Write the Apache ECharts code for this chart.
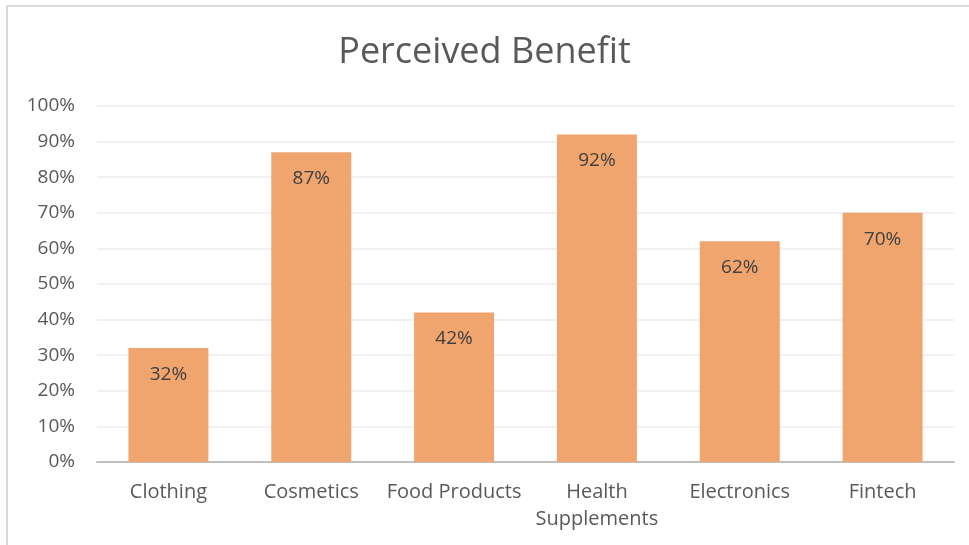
<!DOCTYPE html>
<html>
<head>
<meta charset="utf-8">
<script src="https://cdn.jsdelivr.net/npm/echarts@6/dist/echarts.min.js"></script>
<style>
  html, body { margin: 0; padding: 0; background: #ffffff; }
  #chart { width: 969px; height: 545px; }
</style>
</head>
<body>
<div id="chart"></div>
<script>
// Share of respondents perceiving a benefit, by product category
const categories = ['Clothing', 'Cosmetics', 'Food Products', 'Health\nSupplements', 'Electronics', 'Fintech'];
const benefitValues = [32, 87, 42, 92, 62, 70];
const yTicks = [0, 10, 20, 30, 40, 50, 60, 70, 80, 90, 100];

const chart = echarts.init(document.getElementById('chart'));
const font = '"Open Sans", "Noto Sans", sans-serif';

chart.setOption({
  animation: false,
  backgroundColor: '#ffffff',
  graphic: [{
    type: 'rect',
    shape: { x: 7, y: 6, width: 990, height: 580 },
    style: { fill: 'none', stroke: '#d9d9d9', lineWidth: 2 },
    silent: true,
    z: -1
  }],
  title: {
    text: 'Perceived Benefit',
    left: 'center',
    top: 30,
    textStyle: { fontFamily: font, fontSize: 36, fontWeight: 'normal', color: '#595959' }
  },
  grid: { left: 97, right: 15, top: 106, bottom: 83, containLabel: false },
  xAxis: {
    type: 'category',
    data: categories,
    axisLine: { lineStyle: { color: '#bfbfbf', width: 2 } },
    axisTick: { show: false },
    axisLabel: {
      fontFamily: font, fontSize: 20, color: '#595959',
      margin: 17, lineHeight: 27, interval: 0
    }
  },
  yAxis: {
    type: 'value',
    min: 0,
    max: 100,
    interval: 10,
    axisLine: { show: false },
    axisTick: { show: false },
    splitLine: { lineStyle: { color: '#ececec', width: 1.5 } },
    axisLabel: {
      fontFamily: font, fontSize: 19, color: '#595959', margin: 22,
      formatter: v => (yTicks.includes(v) ? v + '%' : '')
    }
  },
  series: [{
    type: 'bar',
    data: benefitValues,
    barWidth: '56%',
    itemStyle: { color: '#f0a56e' },
    label: {
      show: true,
      position: 'insideTop',
      distance: 17,
      formatter: p => p.value + '%',
      fontFamily: font, fontSize: 19, color: '#404040'
    }
  }]
});
</script>
</body>
</html>
